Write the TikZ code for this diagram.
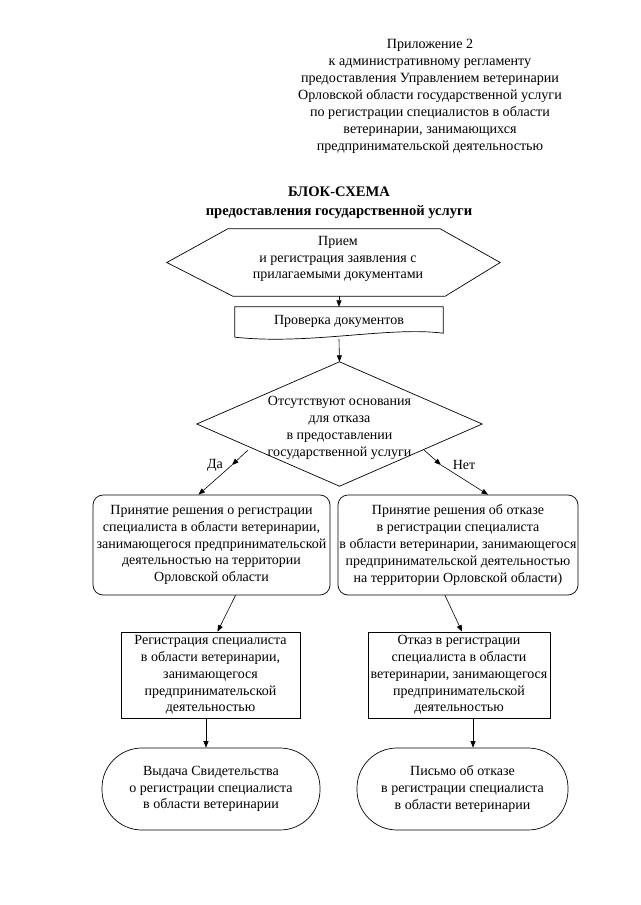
\documentclass[tikz,border=0pt]{standalone}
\usepackage{fontspec}
\setmainfont{Liberation Serif}
\usetikzlibrary{arrows.meta,calc}
\begin{document}
\begin{tikzpicture}[x=1pt,y=-1pt,
  txt/.style={font=\fontsize{14}{16.8}\selectfont, align=center, inner sep=0pt},
  shp/.style={draw, line width=0.7pt},
  arr/.style={-{Triangle[length=6.5pt,width=5pt]}, line width=0.6pt},
  lbl/.style={font=\fontsize{14}{16.8}\selectfont, inner sep=0pt}]
\useasboundingbox[fill=white] (0,0) rectangle (640,905);

\node[txt, font=\fontsize{14.1}{17}\selectfont] (hdr) at (430,96) {Приложение 2\\к административному регламенту\\предоставления Управлением ветеринарии\\Орловской области государственной услуги\\по регистрации специалистов в области\\ветеринарии, занимающихся\\предпринимательской деятельностью};

\node[txt, font=\fontsize{14.6}{19}\selectfont\bfseries] (title) at (339,203) {БЛОК-СХЕМА\\предоставления государственной услуги};

% hexagon
\node[minimum width=333pt, minimum height=67pt, inner sep=0pt] (hex) at (333.5,262.5) {};
\draw[shp] (hex.west) -- ($(hex.north west)+(61,0)$) -- ($(hex.north east)+(-60,0)$) -- (hex.east) -- ($(hex.south east)+(-55,0)$) -- ($(hex.south west)+(66,0)$) -- cycle;
\node[txt] (hext) at (338,259) {Прием\\и регистрация заявления с\\прилагаемыми документами};

% document
\node[txt, minimum width=208pt, minimum height=28pt] (doc) at (339,321) {Проверка документов};
\draw[shp] ($(doc.south west)+(0,2)$) -- (doc.north west) -- (doc.north east) -- ($(doc.south east)+(0,-2)$)
  .. controls +(-55,-7) and +(75,8) .. ($(doc.south west)+(0,2)$);

% diamond
\node[minimum width=285pt, minimum height=124pt, inner sep=0pt] (dia) at (339.5,424) {};
\draw[shp] (dia.north) -- (dia.east) -- (dia.south) -- (dia.west) -- cycle;
\node[txt] (diat) at (339.5,428) {Отсутствуют основания\\для отказа\\в предоставлении\\государственной услуги};

% decision results
\node[txt, shp, rounded corners=10pt, minimum width=237pt, minimum height=100pt] (yes1) at (211.5,545) {Принятие решения о регистрации\\специалиста в области ветеринарии,\\занимающегося предпринимательской\\деятельностью на территории\\Орловской области};
\node[txt, shp, rounded corners=10pt, minimum width=240pt, minimum height=100pt] (no1) at (458,545) {Принятие решения об отказе\\в регистрации специалиста\\в области ветеринарии, занимающегося\\предпринимательской деятельностью\\на территории Орловской области)};

\node[txt, shp, minimum width=179pt, minimum height=86pt] (yes2) at (210.5,675) {Регистрация специалиста\\в области ветеринарии,\\занимающегося\\предпринимательской\\деятельностью};
\node[txt, shp, minimum width=182pt, minimum height=86pt] (no2) at (459,675) {Отказ в регистрации\\специалиста в области\\ветеринарии, занимающегося\\предпринимательской\\деятельностью};

\node[txt, shp, rounded corners=40pt, minimum width=218pt, minimum height=82pt] (yes3) at (211,789) {Выдача Свидетельства\\о регистрации специалиста\\в области ветеринарии};
\node[txt, shp, rounded corners=40pt, minimum width=211pt, minimum height=82pt] (no3) at (462.5,789) {Письмо об отказе\\в регистрации специалиста\\в области ветеринарии};

% connectors
\draw[arr] (hex.south -| doc.north) -- (doc.north);
\draw[arr] ($(doc.south)+(0,4)$) -- (dia.north);

\coordinate (dl) at (248,450);
\coordinate (dlm) at (232,465);
\draw[arr] (dl) -- (dlm);
\draw[arr] (dlm) -- ($(yes1.north)+(-13,0)$);
\coordinate (dr) at (424,450);
\coordinate (drm) at (441,465);
\draw[arr] (dr) -- (drm);
\draw[arr] (drm) -- ($(no1.north)+(30,0)$);
\node[lbl] (da) at (215,465) {Да};
\node[lbl] (net) at (464,465) {Нет};

\draw[arr] ($(yes1.south)+(24,0)$) -- ($(yes2.north)+(7,0)$);
\draw[arr] ($(no1.south)+(-13,0)$) -- ($(no2.north)+(3,0)$);
\draw[arr] ($(yes2.south)+(-4.5,0)$) -- ($(yes3.north)+(-5,0)$);
\draw[arr] ($(no2.south)+(14,0)$) -- ($(no3.north)+(10.5,0)$);
\end{tikzpicture}
\end{document}
